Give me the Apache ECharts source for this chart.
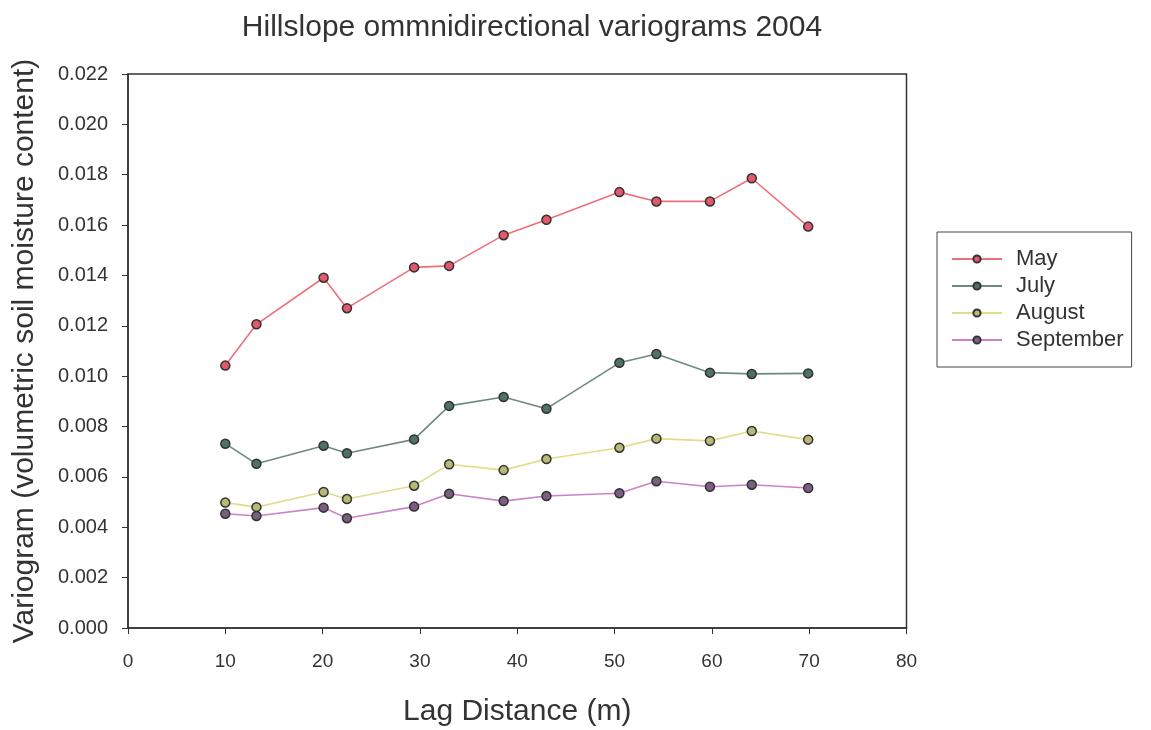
<!DOCTYPE html>
<html>
<head>
<meta charset="utf-8">
<script src="https://cdn.jsdelivr.net/npm/echarts@6/dist/echarts.min.js"></script>
<style>
html,body{margin:0;padding:0;background:#fff;}
#chart{width:1151px;height:730px;}
</style>
</head>
<body>
<div id="chart"></div>
<script>
var lagDistance = [10, 13.2, 20.1, 22.5, 29.4, 33.0, 38.6, 43.0, 50.5, 54.3, 59.8, 64.1, 69.9];
var may       = [0.01042, 0.01206, 0.01391, 0.01270, 0.01432, 0.01438, 0.01560, 0.01621, 0.01731, 0.01694, 0.01694, 0.01786, 0.01594];
var july      = [0.00732, 0.00652, 0.00724, 0.00694, 0.00749, 0.00882, 0.00917, 0.00871, 0.01053, 0.01088, 0.01014, 0.01009, 0.01011];
var august    = [0.00498, 0.00480, 0.00540, 0.00512, 0.00565, 0.00650, 0.00627, 0.00671, 0.00716, 0.00752, 0.00743, 0.00782, 0.00748];
var september = [0.00454, 0.00445, 0.00478, 0.00436, 0.00482, 0.00533, 0.00504, 0.00524, 0.00535, 0.00583, 0.00561, 0.00569, 0.00556];
var seriesNames = ['May', 'July', 'August', 'September'];
var xTicks = [0, 10, 20, 30, 40, 50, 60, 70, 80];
var yTicks = [0.000, 0.002, 0.004, 0.006, 0.008, 0.010, 0.012, 0.014, 0.016, 0.018, 0.020, 0.022];

function pairs(vals) {
  return lagDistance.map(function (x, i) { return [x, vals[i]]; });
}

var styles = [
  { line: '#ee6f7c', fill: '#e3596b' },
  { line: '#6c8a80', fill: '#4f7266' },
  { line: '#dede8a', fill: '#b9b976' },
  { line: '#cc82c8', fill: '#7d5e82' }
];
var allData = [may, july, august, september];

var font = '"Liberation Sans", Arial, sans-serif';

var chart = echarts.init(document.getElementById('chart'), null, { renderer: 'canvas' });
chart.setOption({
  backgroundColor: '#ffffff',
  animation: false,
  title: {
    text: 'Hillslope ommnidirectional variograms 2004',
    left: 527, textAlign: 'center', top: 8,
    textStyle: { fontFamily: font, fontSize: 30, fontWeight: 'normal', color: '#333' }
  },
  grid: {
    left: 128, right: 244.5, top: 74, bottom: 102,
    outerBoundsMode: 'none', containLabel: false,
    show: true, borderColor: '#333', borderWidth: 1.5, backgroundColor: 'transparent'
  },
  legend: {
    orient: 'vertical',
    left: 937, top: 232,
    data: seriesNames,
    borderColor: '#444', borderWidth: 1,
    padding: [16, 8, 16, 14],
    itemWidth: 50, itemHeight: 9, itemGap: 5,
    textStyle: { fontFamily: font, fontSize: 22, color: '#333', padding: [0, 0, 0, 9] }
  },
  xAxis: {
    type: 'value', min: xTicks[0], max: xTicks[xTicks.length - 1], interval: 10,
    name: 'Lag Distance (m)', nameLocation: 'middle', nameGap: 69,
    nameTextStyle: { fontFamily: font, fontSize: 30, color: '#333' },
    axisLine: { show: true, onZero: false, lineStyle: { color: '#333', width: 1.5 } },
    axisTick: { show: true, inside: false, length: 6, lineStyle: { color: '#333' } },
    axisLabel: { fontFamily: font, fontSize: 19, color: '#333', margin: 24 },
    splitLine: { show: false }
  },
  yAxis: {
    type: 'value', min: yTicks[0], max: yTicks[yTicks.length - 1], interval: 0.002,
    name: 'Variogram (volumetric soil moisture content)', nameLocation: 'middle', nameGap: 88,
    nameTextStyle: { fontFamily: font, fontSize: 30, color: '#333' },
    axisLine: { show: true, onZero: false, lineStyle: { color: '#333', width: 1.5 } },
    axisTick: { show: true, inside: false, length: 6, lineStyle: { color: '#333' } },
    axisLabel: { fontFamily: font, fontSize: 20, color: '#333', margin: 20,
      formatter: function (v) { return v.toFixed(3); } },
    splitLine: { show: false }
  },
  series: seriesNames.map(function (name, i) {
    return {
      name: name, type: 'line', data: pairs(allData[i]),
      symbol: 'circle', symbolSize: 9,
      lineStyle: { color: styles[i].line, width: 1.6 },
      itemStyle: { color: styles[i].fill, borderColor: '#333', borderWidth: 1.5 }
    };
  })
});
</script>
</body>
</html>
